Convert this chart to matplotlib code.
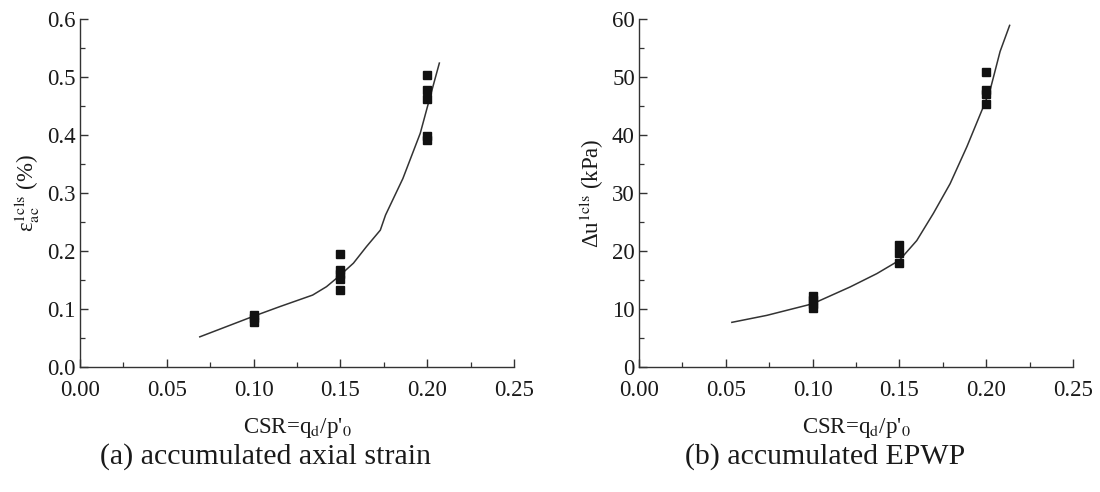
import matplotlib
matplotlib.use("Agg")
import matplotlib.pyplot as plt
from matplotlib.ticker import MultipleLocator, FormatStrFormatter

plt.rcParams['font.family'] = ['Liberation Serif', 'DejaVu Serif']
plt.rcParams['mathtext.fontset'] = 'stix'

# ---- data: (a) accumulated axial strain ----
strain_csr = [0.10, 0.10, 0.10,
              0.15, 0.15, 0.15, 0.15, 0.15,
              0.20, 0.20, 0.20, 0.20, 0.20]
strain_val = [0.077, 0.084, 0.090,
              0.133, 0.152, 0.160, 0.168, 0.194,
              0.392, 0.399, 0.462, 0.477, 0.504]
strain_fit_csr = [0.069, 0.0995, 0.115, 0.134, 0.142, 0.149, 0.1575, 0.165, 0.173, 0.176, 0.186, 0.196, 0.2007, 0.207]
strain_fit_val = [0.052, 0.087, 0.104, 0.124, 0.1385, 0.156, 0.179, 0.2075, 0.236, 0.262, 0.325, 0.403, 0.455, 0.524]

# ---- data: (b) accumulated EPWP ----
epwp_csr = [0.10, 0.10, 0.10, 0.10,
            0.15, 0.15, 0.15,
            0.20, 0.20, 0.20, 0.20]
epwp_val = [10.2, 10.9, 11.6, 12.3,
            18.0, 19.7, 21.1,
            45.4, 47.1, 47.8, 50.8]
epwp_fit_csr = [0.0535, 0.0736, 0.100, 0.1216, 0.137, 0.150, 0.160, 0.1696, 0.1792, 0.1889, 0.1984, 0.2023, 0.208, 0.2135]
epwp_fit_val = [7.7, 8.9, 10.9, 13.8, 16.1, 18.4, 21.8, 26.5, 31.6, 38.0, 44.9, 47.8, 54.4, 58.9]

xlabel = "CSR=q$_{\\mathrm{d}}$/p'$_{0}$"
ylabels = ["ε$^{\\mathrm{1cls}}_{\\mathrm{ac}}$ (%)", "Δu$^{\\mathrm{1cls}}$ (kPa)"]
captions = ["(a) accumulated axial strain", "(b) accumulated EPWP"]

fig = plt.figure(figsize=(11, 4.92), dpi=100)
W, H = 1100, 492
ax1 = fig.add_axes([80 / W, (H - 367) / H, 434 / W, 348 / H])
ax2 = fig.add_axes([639 / W, (H - 367) / H, 434 / W, 348 / H])

txt = '#1a1a1a'
fs = 16.5

def style(ax):
    for s in ['top', 'right']:
        ax.spines[s].set_visible(False)
    for s in ['left', 'bottom']:
        ax.spines[s].set_linewidth(1.0)
        ax.spines[s].set_color('#333333')
    ax.tick_params(which='major', direction='in', length=6, width=1.0, colors='#333333',
                   labelsize=fs, labelcolor=txt)
    ax.tick_params(axis='y', which='major', pad=3)
    ax.tick_params(axis='x', which='major', pad=9)
    ax.tick_params(which='minor', direction='in', length=3.5, width=0.9, colors='#333333')
    ax.set_xlim(0, 0.25)
    ax.xaxis.set_major_locator(MultipleLocator(0.05))
    ax.xaxis.set_minor_locator(MultipleLocator(0.025))
    ax.xaxis.set_major_formatter(FormatStrFormatter('%.2f'))
    ax.set_xlabel(xlabel, fontsize=fs, color=txt, labelpad=11)

style(ax1)
ax1.plot(strain_fit_csr, strain_fit_val, color='#333333', lw=1.1)
ax1.plot(strain_csr, strain_val, 's', color='#111111', ms=5.2, mec='#111111')
ax1.set_ylim(0, 0.6)
ax1.yaxis.set_major_locator(MultipleLocator(0.1))
ax1.yaxis.set_minor_locator(MultipleLocator(0.05))
ax1.yaxis.set_major_formatter(FormatStrFormatter('%.1f'))
ax1.set_ylabel(ylabels[0], fontsize=fs, color=txt, labelpad=4)

style(ax2)
ax2.plot(epwp_fit_csr, epwp_fit_val, color='#333333', lw=1.1)
ax2.plot(epwp_csr, epwp_val, 's', color='#111111', ms=5.2, mec='#111111')
ax2.set_ylim(0, 60)
ax2.yaxis.set_major_locator(MultipleLocator(10))
ax2.yaxis.set_minor_locator(MultipleLocator(5))
ax2.set_ylabel(ylabels[1], fontsize=fs, color=txt, labelpad=4)

fig.text(266 / W, 1 - 457 / H, captions[0], ha='center', va='center', fontsize=21.5, color=txt)
fig.text(825 / W, 1 - 457 / H, captions[1], ha='center', va='center', fontsize=21.5, color=txt)

fig.savefig('out.png', dpi=100, facecolor='white')
